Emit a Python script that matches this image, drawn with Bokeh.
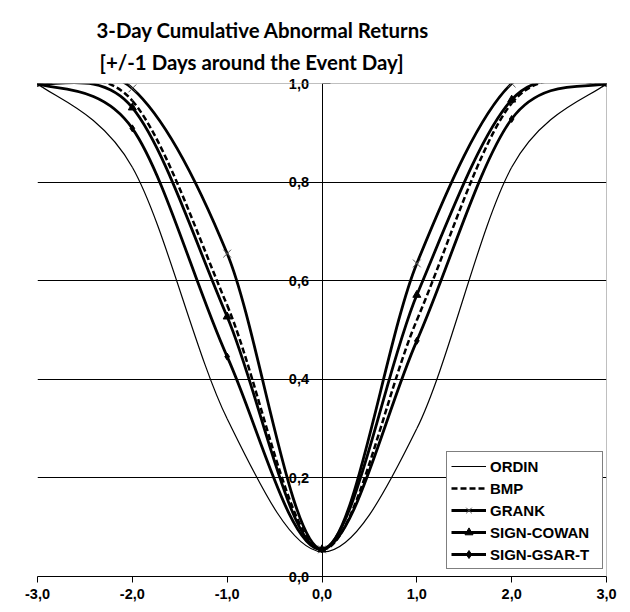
from bokeh.plotting import figure
from bokeh.layouts import column
from bokeh.models import (Range1d, FixedTicker, Span, Legend, LegendItem,
                          Label, ColumnDataSource)
from bokeh.embed import file_html
from bokeh.resources import INLINE

# ---------------- data ----------------
days = [-3, -2, -1, 0, 1, 2, 3]
ordin = [1.0, 0.83, 0.32, 0.05, 0.30, 0.83, 1.0]
bmp = [1.0, 0.965, 0.55, 0.055, 0.52, 0.96, 1.0]
grank = [1.0, 0.99, 0.655, 0.055, 0.635, 1.0, 1.0]
sign_cowan = [1.0, 0.951, 0.527, 0.055, 0.571, 0.967, 1.0]
sign_gsar_t = [1.0, 0.909, 0.446, 0.055, 0.478, 0.928, 1.0]

x_ticks = [-3, -2, -1, 0, 1, 2, 3]
x_tick_labels = ["-3,0", "-2,0", "-1,0", "0,0", "1,0", "2,0", "3,0"]
y_ticks = [0.0, 0.2, 0.4, 0.6, 0.8, 1.0]
y_tick_labels = ["0,0", "0,2", "0,4", "0,6", "0,8", "1,0"]

title_line1 = "3-Day Cumulative Abnormal Returns"
title_line2 = "[+/-1 Days around the Event Day]"


def smooth_source(xs, ys):
    """Bezier segments through the data points (spreadsheet-style smoothing)."""
    n = len(xs)
    cols = {k: [] for k in ("x0", "y0", "x1", "y1", "cx0", "cy0", "cx1", "cy1")}
    for i in range(n - 1):
        ip = i - 1 if i > 0 else i
        inx = i + 2 if i + 2 < n else i + 1
        cols["x0"].append(xs[i]); cols["y0"].append(ys[i])
        cols["x1"].append(xs[i + 1]); cols["y1"].append(ys[i + 1])
        cols["cx0"].append(xs[i] + (xs[i + 1] - xs[ip]) / 6)
        cols["cy0"].append(ys[i] + (ys[i + 1] - ys[ip]) / 6)
        cols["cx1"].append(xs[i + 1] - (xs[inx] - xs[i]) / 6)
        cols["cy1"].append(ys[i + 1] - (ys[inx] - ys[i]) / 6)
    return ColumnDataSource(cols)


p = figure(width=620, height=602, output_backend="svg", toolbar_location=None,
           x_range=Range1d(-3, 3), y_range=Range1d(0, 1),
           min_border_left=28, min_border_right=23, min_border_top=74,
           min_border_bottom=35, title=None)
p.outline_line_color = None
p.background_fill_color = "white"
p.border_fill_color = "white"

# grid
p.xgrid.visible = False
p.ygrid.ticker = FixedTicker(ticks=y_ticks[1:-1])
p.ygrid.grid_line_color = "black"
p.ygrid.grid_line_width = 1

# plot-area border (top and right, gray)
p.add_layout(Span(location=y_ticks[-1], dimension="width", line_color="#808080", line_width=1))
p.add_layout(Span(location=x_ticks[-1], dimension="height", line_color="#808080", line_width=1))

# axes
tick_font = "Liberation Sans"
tick_size = "14.5px"
p.xaxis.ticker = FixedTicker(ticks=x_ticks)
p.xaxis.major_label_overrides = dict(zip(x_ticks, x_tick_labels))
p.xaxis.major_tick_out = 6
p.xaxis.major_tick_in = 0
p.xaxis.minor_tick_line_color = None
p.xaxis.axis_line_color = "black"
p.xaxis.major_label_text_font = tick_font
p.xaxis.major_label_text_font_style = "bold"
p.xaxis.major_label_text_font_size = tick_size
p.xaxis.major_label_standoff = 6
p.xaxis.major_label_text_color = "black"

# y axis crosses at x = 0; the end labels (0,0 and 1,0) sit on the frame edge,
# so they are drawn as unclipped labels in the side panels
y_overrides = dict(zip(y_ticks, y_tick_labels))
y_overrides[y_ticks[0]] = ""
y_overrides[y_ticks[-1]] = ""
p.yaxis.fixed_location = 0
p.yaxis.ticker = FixedTicker(ticks=y_ticks)
p.yaxis.major_label_overrides = y_overrides
p.yaxis.major_tick_out = 0
p.yaxis.major_tick_in = 8
p.yaxis.minor_tick_line_color = None
p.yaxis.axis_line_color = "black"
p.yaxis.major_label_text_font = tick_font
p.yaxis.major_label_text_font_style = "bold"
p.yaxis.major_label_text_font_size = tick_size
p.yaxis.major_label_standoff = 13
p.yaxis.major_label_text_color = "black"

for yv, lab, side in ((y_ticks[-1], y_tick_labels[-1], "above"),
                      (y_ticks[0], y_tick_labels[0], "below")):
    p.add_layout(Label(x=0, y=yv, x_units="data", y_units="data", text=lab,
                       x_offset=-13, text_align="right", text_baseline="middle",
                       text_font=tick_font, text_font_style="bold",
                       text_font_size=tick_size, text_color="black"), side)

# title: two lines placed in the panel above the plot area
for txt, xx, yy in ((title_line1, -2.378, 1.1095), (title_line2, -2.346, 1.0446)):
    p.add_layout(Label(x=xx, y=yy, x_units="data", y_units="data", text=txt,
                       text_align="left", text_baseline="alphabetic",
                       text_font="Lato", text_font_style="bold",
                       text_font_size="20.4px", text_color="black"), "above")

# series
r_ordin = p.bezier(x0="x0", y0="y0", x1="x1", y1="y1", cx0="cx0", cy0="cy0",
                   cx1="cx1", cy1="cy1", source=smooth_source(days, ordin),
                   line_color="black", line_width=1.2)
r_bmp = p.bezier(x0="x0", y0="y0", x1="x1", y1="y1", cx0="cx0", cy0="cy0",
                 cx1="cx1", cy1="cy1", source=smooth_source(days, bmp),
                 line_color="black", line_width=2.5, line_dash="6 3")
r_grank = p.bezier(x0="x0", y0="y0", x1="x1", y1="y1", cx0="cx0", cy0="cy0",
                   cx1="cx1", cy1="cy1", source=smooth_source(days, grank),
                   line_color="black", line_width=2.8)
m_grank = p.scatter(days, grank, marker="x", size=11, line_color="#555555", line_width=1)
r_cowan = p.bezier(x0="x0", y0="y0", x1="x1", y1="y1", cx0="cx0", cy0="cy0",
                   cx1="cx1", cy1="cy1", source=smooth_source(days, sign_cowan),
                   line_color="black", line_width=2.8)
m_cowan = p.scatter(days, sign_cowan, marker="triangle", size=8, color="black")
r_gsar = p.bezier(x0="x0", y0="y0", x1="x1", y1="y1", cx0="cx0", cy0="cy0",
                  cx1="cx1", cy1="cy1", source=smooth_source(days, sign_gsar_t),
                  line_color="black", line_width=2.8)
m_gsar = p.scatter(days, sign_gsar_t, marker="diamond", size=7, color="black")

legend = Legend(items=[
    LegendItem(label="ORDIN", renderers=[r_ordin]),
    LegendItem(label="BMP", renderers=[r_bmp]),
    LegendItem(label="GRANK", renderers=[r_grank, m_grank]),
    LegendItem(label="SIGN-COWAN", renderers=[r_cowan, m_cowan]),
    LegendItem(label="SIGN-GSAR-T", renderers=[r_gsar, m_gsar]),
], location=(409, 7))
legend.label_text_font = tick_font
legend.label_text_font_style = "bold"
legend.label_text_font_size = "15px"
legend.label_text_color = "black"
legend.border_line_color = "black"
legend.border_line_width = 1
legend.background_fill_color = "white"
legend.background_fill_alpha = 1
legend.glyph_width = 35
legend.glyph_height = 20
legend.label_height = 20
legend.label_width = 108
legend.spacing = 2
legend.padding = 4
legend.margin = 0
legend.label_standoff = 4
p.add_layout(legend)

page = column(p, margin=(9, 0, 0, 9))

open("out.html", "w").write(file_html(page, INLINE))
